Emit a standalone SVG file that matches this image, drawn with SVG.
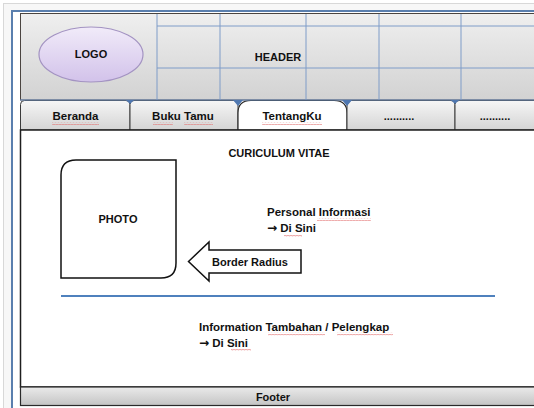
<svg xmlns="http://www.w3.org/2000/svg" width="534" height="408" viewBox="0 0 534 408">
<defs>
<linearGradient id="hdr" x1="0" y1="0" x2="0" y2="1"><stop offset="0" stop-color="#efefef"/><stop offset="1" stop-color="#d2d2d2"/></linearGradient>
<linearGradient id="tab" x1="0" y1="0" x2="0" y2="1"><stop offset="0" stop-color="#f6f6f6"/><stop offset="1" stop-color="#d4d4d4"/></linearGradient>
<linearGradient id="ftr" x1="0" y1="0" x2="0" y2="1"><stop offset="0" stop-color="#eaeaea"/><stop offset="1" stop-color="#c4c4c4"/></linearGradient>
<linearGradient id="logo" x1="0" y1="0" x2="0" y2="1"><stop offset="0" stop-color="#f1ebf9"/><stop offset="1" stop-color="#d2c2ea"/></linearGradient>
<pattern id="sq" width="3" height="3" patternUnits="userSpaceOnUse"><path d="M0 2.3 L0.75 1 L1.5 2.3 L2.25 1 L3 2.3" fill="none" stroke="#e07070" stroke-width="0.6"/></pattern>
<style>
text{font-family:"Liberation Sans",Arial,sans-serif;font-weight:bold;font-size:11px;fill:#111}
.c{text-anchor:middle}
.b{font-size:11.5px}
.ar{font-family:"DejaVu Sans",sans-serif;font-size:12px}
.grid{stroke:#7f9cc8;stroke-width:1;fill:none}
.tab{fill:url(#tab);stroke:#3a3a3a;stroke-width:1}
.sq{fill:url(#sq);opacity:0.85}
.blue{fill:#4f77b0}
</style>
</defs>
<rect width="534" height="408" fill="#ffffff"/>
<rect x="3.5" y="3.5" width="540" height="410" fill="#f7f7f7" stroke="#d8d8d8"/>
<rect x="12" y="11" width="540" height="410" fill="#ffffff" stroke="#5a7fae" stroke-width="2"/>

<g id="header">
<rect x="20.5" y="13.5" width="530" height="86.5" fill="url(#hdr)" stroke="#4a4440" stroke-width="1"/>
<path class="grid" d="M157 26H534M157 68H534M157 14V100M220 14V100M306 14V100M379 14V100M461 14V100"/>
<text class="c" x="278" y="61">HEADER</text>
</g>

<g id="logo-node">
<ellipse cx="91" cy="54.5" rx="52" ry="27.5" fill="url(#logo)" stroke="#a393c2" stroke-width="1.2"/>
<text class="c" x="91" y="57.5">LOGO</text>
</g>

<g id="tabs">
<g id="tab-beranda">
<path class="tab" d="M20.5 130V104.5Q20.5 100.5 24.5 100.5H126Q130 100.5 130 104.5V130Z"/>
<text class="c b" x="75.5" y="120">Beranda</text>
<rect class="sq" x="52" y="122" width="47" height="3"/>
</g>
<g id="tab-bukutamu">
<path class="tab" d="M130 130V104.5Q130 100.5 134 100.5H234Q238 100.5 238 104.5V130Z"/>
<text class="c b" x="183" y="120">Buku Tamu</text>
<rect class="sq" x="153" y="122" width="20" height="3"/>
<rect class="sq" x="184" y="122" width="29" height="3"/>
</g>
<g id="tab-tentangku">
<path d="M238 130V113Q238 100.5 251 100.5H334Q347 100.5 347 113V130Z" fill="#ffffff" stroke="#2a2a2a" stroke-width="1.2"/>
<text class="c b" x="292" y="120">TentangKu</text>
<rect class="sq" x="262" y="122" width="60" height="3"/>
</g>
<g id="tab-4">
<path class="tab" d="M347 130V104.5Q347 100.5 351 100.5H451Q455 100.5 455 104.5V130Z"/>
<text class="c" x="399" y="120">..........</text>
</g>
<g id="tab-5">
<path class="tab" d="M455 130V104.5Q455 100.5 459 100.5H545V130Z"/>
<text class="c" x="495" y="120">..........</text>
</g>
<path d="M20 100H534" stroke="#6f8fc0" stroke-width="1"/>
<path class="blue" d="M126 100H134L130 104Z M233 100H243L238 106Z M342 100H352L347 106Z M451 100H459L455 104Z"/>
</g>

<g id="content">
<rect x="20.5" y="130" width="530" height="257" fill="#ffffff" stroke="#1e1e1e" stroke-width="1.5"/>
<text class="c" x="279" y="157">CURICULUM VITAE</text>
</g>

<g id="photo">
<path d="M76 160H176V263Q176 278 161 278H61V175Q61 160 76 160Z" fill="#ffffff" stroke="#111" stroke-width="1.5"/>
<text class="c" x="118" y="223">PHOTO</text>
</g>

<g id="border-radius-arrow">
<path d="M188.5 261.5L209 242V250H301V273H209V281Z" fill="#ffffff" stroke="#111" stroke-width="1.5" stroke-linejoin="miter"/>
<text x="212" y="266">Border Radius</text>
</g>

<g id="personal-info">
<text class="b" x="267" y="216">Personal Informasi</text>
<text class="b" x="267" y="232"><tspan class="ar">→</tspan> Di Sini</text>
<rect class="sq" x="317" y="218" width="54" height="3"/>
<rect class="sq" x="284" y="234" width="18" height="3"/>
</g>

<g id="connectors">
<path d="M61 296H495" stroke="#4f81bd" stroke-width="2"/>
</g>

<g id="additional-info">
<text class="b" x="199" y="330.5">Information Tambahan / Pelengkap</text>
<text class="b" x="199" y="347"><tspan class="ar">→</tspan> Di Sini</text>
<rect class="sq" x="268" y="332.5" width="57" height="3"/>
<rect class="sq" x="337" y="332.5" width="56" height="3"/>
<rect class="sq" x="231" y="349" width="20" height="3"/>
</g>

<g id="footer">
<rect x="20.5" y="387" width="530" height="18.5" fill="url(#ftr)" stroke="#2a2a2a" stroke-width="1.2"/>
<text class="c" x="273" y="400.5">Footer</text>
</g>
</svg>
